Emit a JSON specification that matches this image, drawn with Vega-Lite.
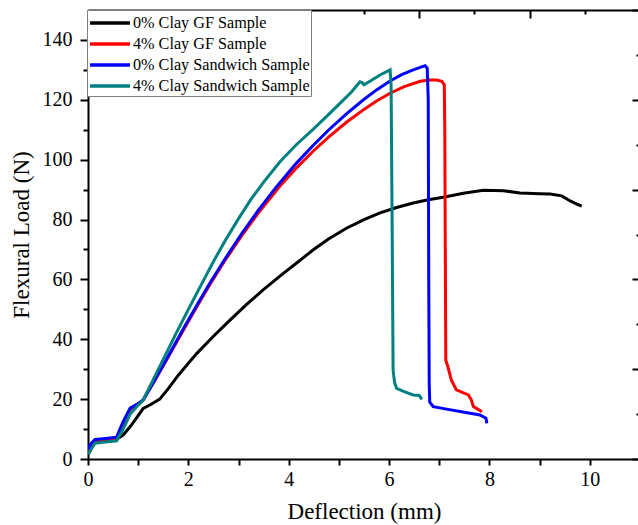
{
  "$schema": "https://vega.github.io/schema/vega-lite/v6.json",
  "width": 552,
  "height": 449,
  "autosize": {"type": "none"},
  "padding": {"left": 88, "top": 10, "right": 0, "bottom": 66},
  "background": "white",
  "data": {
    "values": [
      {"s":"0% Clay GF Sample","d":0,"f":1.5},{"s":"0% Clay GF Sample","d":0.05,"f":3},{"s":"0% Clay GF Sample","d":0.14,"f":6},{"s":"0% Clay GF Sample","d":0.3,"f":6.3},{"s":"0% Clay GF Sample","d":0.57,"f":6.6},{"s":"0% Clay GF Sample","d":0.7,"f":8},{"s":"0% Clay GF Sample","d":0.85,"f":11},{"s":"0% Clay GF Sample","d":1.0,"f":14.5},{"s":"0% Clay GF Sample","d":1.1,"f":16.9},{"s":"0% Clay GF Sample","d":1.25,"f":18.2},{"s":"0% Clay GF Sample","d":1.43,"f":20},{"s":"0% Clay GF Sample","d":1.6,"f":23.5},{"s":"0% Clay GF Sample","d":1.8,"f":28},{"s":"0% Clay GF Sample","d":2.0,"f":32},{"s":"0% Clay GF Sample","d":2.17,"f":35.3},{"s":"0% Clay GF Sample","d":2.5,"f":41},{"s":"0% Clay GF Sample","d":2.83,"f":46.4},{"s":"0% Clay GF Sample","d":3.15,"f":51.5},{"s":"0% Clay GF Sample","d":3.49,"f":56.5},{"s":"0% Clay GF Sample","d":3.83,"f":61.2},{"s":"0% Clay GF Sample","d":4.22,"f":66.3},{"s":"0% Clay GF Sample","d":4.49,"f":69.9},{"s":"0% Clay GF Sample","d":4.8,"f":73.6},{"s":"0% Clay GF Sample","d":5.15,"f":77.1},{"s":"0% Clay GF Sample","d":5.5,"f":80.0},{"s":"0% Clay GF Sample","d":5.82,"f":82.2},{"s":"0% Clay GF Sample","d":6.15,"f":84.0},{"s":"0% Clay GF Sample","d":6.48,"f":85.5},{"s":"0% Clay GF Sample","d":6.78,"f":86.6},{"s":"0% Clay GF Sample","d":7.11,"f":87.5},{"s":"0% Clay GF Sample","d":7.48,"f":88.8},{"s":"0% Clay GF Sample","d":7.88,"f":89.8},{"s":"0% Clay GF Sample","d":8.28,"f":89.6},{"s":"0% Clay GF Sample","d":8.61,"f":88.9},{"s":"0% Clay GF Sample","d":9.0,"f":88.6},{"s":"0% Clay GF Sample","d":9.21,"f":88.5},{"s":"0% Clay GF Sample","d":9.44,"f":87.9},{"s":"0% Clay GF Sample","d":9.61,"f":86.2},{"s":"0% Clay GF Sample","d":9.75,"f":85.1},{"s":"0% Clay GF Sample","d":9.84,"f":84.5},
      {"s":"4% Clay GF Sample","d":0,"f":2.5},{"s":"4% Clay GF Sample","d":0.05,"f":4.5},{"s":"4% Clay GF Sample","d":0.14,"f":6.2},{"s":"4% Clay GF Sample","d":0.3,"f":6.5},{"s":"4% Clay GF Sample","d":0.57,"f":7},{"s":"4% Clay GF Sample","d":0.7,"f":12},{"s":"4% Clay GF Sample","d":0.84,"f":16.5},{"s":"4% Clay GF Sample","d":1.0,"f":18.5},{"s":"4% Clay GF Sample","d":1.1,"f":19.7},{"s":"4% Clay GF Sample","d":1.3,"f":25.3},{"s":"4% Clay GF Sample","d":1.57,"f":33.2},{"s":"4% Clay GF Sample","d":1.9,"f":43},{"s":"4% Clay GF Sample","d":2.2,"f":51.8},{"s":"4% Clay GF Sample","d":2.43,"f":58.3},{"s":"4% Clay GF Sample","d":2.71,"f":65.8},{"s":"4% Clay GF Sample","d":3.05,"f":74.3},{"s":"4% Clay GF Sample","d":3.4,"f":82.3},{"s":"4% Clay GF Sample","d":3.83,"f":91.3},{"s":"4% Clay GF Sample","d":4.14,"f":97.0},{"s":"4% Clay GF Sample","d":4.49,"f":102.9},{"s":"4% Clay GF Sample","d":4.8,"f":107.6},{"s":"4% Clay GF Sample","d":5.15,"f":112.5},{"s":"4% Clay GF Sample","d":5.5,"f":116.8},{"s":"4% Clay GF Sample","d":5.75,"f":119.6},{"s":"4% Clay GF Sample","d":6.02,"f":122.2},{"s":"4% Clay GF Sample","d":6.3,"f":124.4},{"s":"4% Clay GF Sample","d":6.62,"f":126.2},{"s":"4% Clay GF Sample","d":6.8,"f":126.6},{"s":"4% Clay GF Sample","d":6.95,"f":126.6},{"s":"4% Clay GF Sample","d":7.05,"f":126.2},{"s":"4% Clay GF Sample","d":7.1,"f":125},{"s":"4% Clay GF Sample","d":7.11,"f":110},{"s":"4% Clay GF Sample","d":7.12,"f":70},{"s":"4% Clay GF Sample","d":7.13,"f":33},{"s":"4% Clay GF Sample","d":7.17,"f":30.9},{"s":"4% Clay GF Sample","d":7.24,"f":26.4},{"s":"4% Clay GF Sample","d":7.34,"f":23.1},{"s":"4% Clay GF Sample","d":7.58,"f":21.4},{"s":"4% Clay GF Sample","d":7.64,"f":19.7},{"s":"4% Clay GF Sample","d":7.68,"f":17.5},{"s":"4% Clay GF Sample","d":7.78,"f":16.5},{"s":"4% Clay GF Sample","d":7.85,"f":15.8},
      {"s":"0% Clay Sandwich Sample","d":0,"f":3},{"s":"0% Clay Sandwich Sample","d":0.05,"f":5},{"s":"0% Clay Sandwich Sample","d":0.14,"f":6.5},{"s":"0% Clay Sandwich Sample","d":0.3,"f":6.8},{"s":"0% Clay Sandwich Sample","d":0.57,"f":7.3},{"s":"0% Clay Sandwich Sample","d":0.7,"f":12.5},{"s":"0% Clay Sandwich Sample","d":0.84,"f":17},{"s":"0% Clay Sandwich Sample","d":1.0,"f":18.5},{"s":"0% Clay Sandwich Sample","d":1.1,"f":19.7},{"s":"0% Clay Sandwich Sample","d":1.3,"f":25.5},{"s":"0% Clay Sandwich Sample","d":1.57,"f":33.5},{"s":"0% Clay Sandwich Sample","d":1.9,"f":43.5},{"s":"0% Clay Sandwich Sample","d":2.2,"f":52.3},{"s":"0% Clay Sandwich Sample","d":2.43,"f":58.8},{"s":"0% Clay Sandwich Sample","d":2.71,"f":66.3},{"s":"0% Clay Sandwich Sample","d":3.05,"f":75.0},{"s":"0% Clay Sandwich Sample","d":3.4,"f":83.2},{"s":"0% Clay Sandwich Sample","d":3.75,"f":90.8},{"s":"0% Clay Sandwich Sample","d":4.14,"f":98.6},{"s":"0% Clay Sandwich Sample","d":4.49,"f":104.8},{"s":"0% Clay Sandwich Sample","d":4.8,"f":110},{"s":"0% Clay Sandwich Sample","d":5.15,"f":115.3},{"s":"0% Clay Sandwich Sample","d":5.49,"f":120},{"s":"0% Clay Sandwich Sample","d":5.75,"f":123.3},{"s":"0% Clay Sandwich Sample","d":6.02,"f":126.3},{"s":"0% Clay Sandwich Sample","d":6.25,"f":128.4},{"s":"0% Clay Sandwich Sample","d":6.48,"f":130},{"s":"0% Clay Sandwich Sample","d":6.65,"f":131},{"s":"0% Clay Sandwich Sample","d":6.72,"f":131.4},{"s":"0% Clay Sandwich Sample","d":6.76,"f":130.5},{"s":"0% Clay Sandwich Sample","d":6.78,"f":120},{"s":"0% Clay Sandwich Sample","d":6.79,"f":60},{"s":"0% Clay Sandwich Sample","d":6.8,"f":25},{"s":"0% Clay Sandwich Sample","d":6.81,"f":19},{"s":"0% Clay Sandwich Sample","d":6.88,"f":17.5},{"s":"0% Clay Sandwich Sample","d":7.2,"f":16.5},{"s":"0% Clay Sandwich Sample","d":7.5,"f":15.6},{"s":"0% Clay Sandwich Sample","d":7.81,"f":14.7},{"s":"0% Clay Sandwich Sample","d":7.93,"f":13.6},{"s":"0% Clay Sandwich Sample","d":7.95,"f":11.9},
      {"s":"4% Clay Sandwich Sample","d":0,"f":1.5},{"s":"4% Clay Sandwich Sample","d":0.05,"f":3},{"s":"4% Clay Sandwich Sample","d":0.14,"f":5.3},{"s":"4% Clay Sandwich Sample","d":0.3,"f":5.6},{"s":"4% Clay Sandwich Sample","d":0.57,"f":6.1},{"s":"4% Clay Sandwich Sample","d":0.7,"f":10},{"s":"4% Clay Sandwich Sample","d":0.84,"f":15},{"s":"4% Clay Sandwich Sample","d":1.0,"f":18},{"s":"4% Clay Sandwich Sample","d":1.1,"f":19.7},{"s":"4% Clay Sandwich Sample","d":1.3,"f":26.5},{"s":"4% Clay Sandwich Sample","d":1.5,"f":33.3},{"s":"4% Clay Sandwich Sample","d":1.75,"f":41.8},{"s":"4% Clay Sandwich Sample","d":2.0,"f":50},{"s":"4% Clay Sandwich Sample","d":2.25,"f":58},{"s":"4% Clay Sandwich Sample","d":2.5,"f":66},{"s":"4% Clay Sandwich Sample","d":2.75,"f":73.4},{"s":"4% Clay Sandwich Sample","d":3.0,"f":80.3},{"s":"4% Clay Sandwich Sample","d":3.25,"f":86.8},{"s":"4% Clay Sandwich Sample","d":3.5,"f":92.5},{"s":"4% Clay Sandwich Sample","d":3.83,"f":99.4},{"s":"4% Clay Sandwich Sample","d":4.15,"f":105},{"s":"4% Clay Sandwich Sample","d":4.49,"f":110.2},{"s":"4% Clay Sandwich Sample","d":4.75,"f":114.4},{"s":"4% Clay Sandwich Sample","d":5.02,"f":118.8},{"s":"4% Clay Sandwich Sample","d":5.25,"f":122.6},{"s":"4% Clay Sandwich Sample","d":5.42,"f":126},{"s":"4% Clay Sandwich Sample","d":5.46,"f":125.8},{"s":"4% Clay Sandwich Sample","d":5.5,"f":125},{"s":"4% Clay Sandwich Sample","d":5.65,"f":126.5},{"s":"4% Clay Sandwich Sample","d":5.82,"f":128.3},{"s":"4% Clay Sandwich Sample","d":6.02,"f":130},{"s":"4% Clay Sandwich Sample","d":6.04,"f":125},{"s":"4% Clay Sandwich Sample","d":6.06,"f":80},{"s":"4% Clay Sandwich Sample","d":6.08,"f":29.7},{"s":"4% Clay Sandwich Sample","d":6.11,"f":25.5},{"s":"4% Clay Sandwich Sample","d":6.15,"f":23.6},{"s":"4% Clay Sandwich Sample","d":6.3,"f":22.5},{"s":"4% Clay Sandwich Sample","d":6.48,"f":21.4},{"s":"4% Clay Sandwich Sample","d":6.6,"f":21.2},{"s":"4% Clay Sandwich Sample","d":6.63,"f":20.5},{"s":"4% Clay Sandwich Sample","d":6.65,"f":19.9}
    ]
  },
  "resolve": {"axis": {"x": "independent", "y": "independent"}},
  "layer": [
    {
      "mark": {"type": "line", "strokeWidth": 3, "clip": true},
      "encoding": {
        "x": {"field": "d", "type": "quantitative", "scale": {"domain": [0, 11], "nice": false, "zero": false},
          "axis": {"orient": "bottom", "values": [0,1,2,3,4,5,6,7,8,9,10], "labelExpr": "datum.value % 2 === 0 ? datum.label : ''", "tickSize": 6, "labelPadding": 4, "labelFlush": false, "labelOverlap": false, "title": "Deflection (mm)", "titleX": 276, "titleY": 59, "titleBaseline": "alphabetic"}},
        "y": {"field": "f", "type": "quantitative", "scale": {"domain": [0, 150], "nice": false, "zero": false},
          "axis": {"orient": "left", "values": [0,20,40,60,80,100,120,140], "tickSize": 8, "labelPadding": 8, "labelFlush": false, "labelOverlap": false, "title": "Flexural Load (N)", "titleX": -60, "titleY": 224.5, "titleBaseline": "alphabetic", "titleAngle": -90}},
        "color": {"field": "s", "type": "nominal",
          "scale": {"domain": ["0% Clay GF Sample", "4% Clay GF Sample", "0% Clay Sandwich Sample", "4% Clay Sandwich Sample"], "range": ["#000000", "#ff0000", "#0000ff", "#008080"]},
          "legend": {"orient": "none", "legendX": -1, "legendY": 0, "title": null, "symbolType": "M-1,0H3", "symbolSize": 400, "symbolStrokeWidth": 3.5, "labelFontSize": 16.2, "labelFont": "Liberation Serif", "labelColor": "black", "labelOffset": 21, "labelLimit": 0, "padding": 1, "rowPadding": 0, "strokeColor": "#808080", "fillColor": "white"}}
      }
    },
    {
      "mark": {"type": "line", "opacity": 0},
      "encoding": {
        "x": {"field": "d", "type": "quantitative", "axis": null},
        "y": {"field": "f", "type": "quantitative", "axis": {"orient": "left", "values": [10,30,50,70,90,110,130], "tickSize": 5, "labels": false, "domain": false, "title": null}}
      }
    },
    {
      "mark": {"type": "line", "opacity": 0},
      "encoding": {
        "x": {"field": "d", "type": "quantitative", "axis": {"orient": "top", "values": [0,2.2,4.4,6.6,8.8,11], "tickSize": -8, "labels": false, "domain": true, "title": null}},
        "y": {"field": "f", "type": "quantitative", "axis": null}
      }
    },
    {
      "mark": {"type": "line", "opacity": 0},
      "encoding": {
        "x": {"field": "d", "type": "quantitative", "axis": {"orient": "top", "values": [1.1,3.3,5.5,7.7,9.9], "tickSize": -4, "labels": false, "domain": false, "title": null}},
        "y": {"field": "f", "type": "quantitative", "axis": null}
      }
    },
    {
      "mark": {"type": "line", "opacity": 0},
      "encoding": {
        "x": {"field": "d", "type": "quantitative", "axis": null},
        "y": {"field": "f", "type": "quantitative", "axis": {"orient": "right", "values": [0,30,60,90,120,150], "tickSize": -8, "labels": false, "domain": true, "title": null}}
      }
    },
    {
      "mark": {"type": "line", "opacity": 0},
      "encoding": {
        "x": {"field": "d", "type": "quantitative", "axis": null},
        "y": {"field": "f", "type": "quantitative", "axis": {"orient": "right", "values": [15,45,75,105,135], "tickSize": -4, "labels": false, "domain": false, "title": null}}
      }
    }
  ],
  "config": {
    "view": {"stroke": null},
    "axis": {"labelFont": "Liberation Serif", "titleFont": "Liberation Serif", "labelFontSize": 20, "titleFontSize": 23, "titleFontWeight": "normal", "domainColor": "black", "tickColor": "black", "labelColor": "black", "titleColor": "black", "domainWidth": 2, "tickWidth": 2, "grid": false}
  }
}
